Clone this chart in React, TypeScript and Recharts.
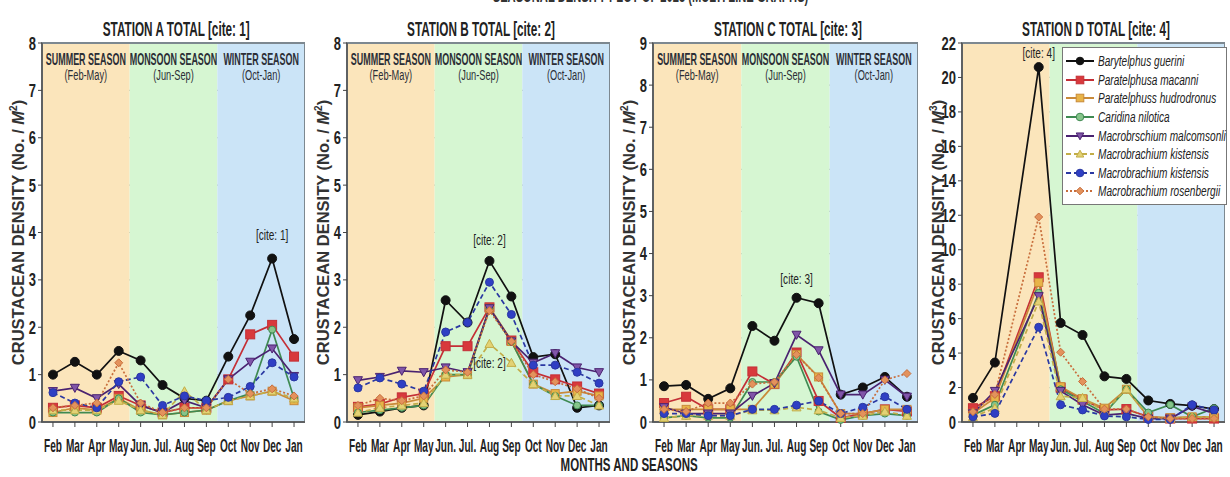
import React from "react";
import { CartesianGrid, Legend, Line, LineChart, ReferenceArea, ReferenceDot, XAxis, YAxis } from "recharts";

const months = ["Feb", "Mar", "Apr", "May", "Jun.", "Jul.", "Aug", "Sep", "Oct", "Nov", "Dec", "Jan"];

const species = [
  "Barytelphus guerini",
  "Paratelphusa macanni",
  "Paratelphuss hudrodronus",
  "Caridina nilotica",
  "Macrobrschium malcomsonli",
  "Macrobrachium kistensis",
  "Macrobrachium kistensis",
  "Macrobrachium rosenbergii",
];

// seasons as month-index ranges [start, end)
const seasonNames = ["SUMMER SEASON", "MONSOON SEASON", "WINTER SEASON"];
const seasonRanges = ["(Feb-May)", "(Jun-Sep)", "(Oct-Jan)"];
const seasonBounds = [0, 4, 8, 12];

// one row per species, same order as `species`
const stationA = [
  [1.0, 1.27, 1.0, 1.5, 1.3, 0.78, 0.5, 0.45, 1.38, 2.25, 3.45, 1.75],
  [0.3, 0.35, 0.3, 0.55, 0.35, 0.2, 0.3, 0.3, 0.9, 1.85, 2.05, 1.38],
  [0.2, 0.3, 0.25, 0.5, 0.25, 0.15, 0.2, 0.25, 0.45, 0.55, 0.65, 0.45],
  [0.2, 0.2, 0.2, 0.5, 0.2, 0.15, 0.2, 0.25, 0.45, 0.6, 1.95, 0.5],
  [0.65, 0.72, 0.5, 0.8, 0.35, 0.2, 0.45, 0.3, 0.9, 1.27, 1.55, 0.97],
  [0.25, 0.25, 0.25, 0.45, 0.25, 0.15, 0.65, 0.25, 0.45, 0.55, 0.65, 0.5],
  [0.62, 0.4, 0.3, 0.85, 0.95, 0.35, 0.55, 0.45, 0.52, 0.75, 1.25, 0.95],
  [0.3, 0.35, 0.4, 1.25, 0.4, 0.2, 0.3, 0.3, 0.9, 0.6, 0.7, 0.55],
];

const stationB = [
  [0.15, 0.22, 0.3, 0.35, 2.57, 2.1, 3.4, 2.65, 1.37, 1.43, 0.3, 0.35],
  [0.32, 0.38, 0.52, 0.6, 1.6, 1.6, 2.42, 1.72, 1.05, 0.9, 0.75, 0.6],
  [0.3, 0.35, 0.4, 0.5, 0.95, 1.0, 2.4, 1.7, 0.8, 0.6, 0.65, 0.55],
  [0.2, 0.25, 0.3, 0.35, 1.0, 1.0, 2.4, 1.7, 0.8, 0.55, 0.35, 0.35],
  [0.88, 0.95, 1.08, 1.05, 1.15, 1.05, 2.4, 1.7, 1.25, 1.45, 1.15, 1.05],
  [0.2, 0.3, 0.35, 0.4, 1.0, 1.0, 1.65, 1.25, 0.8, 0.55, 0.55, 0.35],
  [0.72, 0.93, 0.8, 0.65, 1.9, 2.1, 2.95, 2.27, 1.2, 1.2, 1.05, 0.82],
  [0.35, 0.5, 0.45, 0.55, 1.1, 1.05, 2.35, 1.7, 1.0, 0.85, 0.7, 0.5],
];

const stationC = [
  [0.85, 0.88, 0.55, 0.8, 2.28, 1.93, 2.95, 2.82, 0.65, 0.82, 1.07, 0.6],
  [0.45, 0.6, 0.3, 0.3, 1.2, 0.9, 1.65, 0.5, 0.1, 0.2, 0.3, 0.25],
  [0.3, 0.3, 0.3, 0.3, 0.3, 0.9, 1.6, 1.07, 0.2, 0.2, 0.3, 0.3],
  [0.1, 0.15, 0.1, 0.1, 0.95, 0.95, 1.55, 0.25, 0.05, 0.15, 0.2, 0.15],
  [0.35, 0.2, 0.2, 0.2, 0.62, 0.92, 2.07, 1.7, 0.65, 0.65, 1.0, 0.6],
  [0.1, 0.15, 0.15, 0.15, 0.28, 0.28, 0.35, 0.28, 0.1, 0.15, 0.25, 0.15],
  [0.2, 0.2, 0.15, 0.15, 0.3, 0.3, 0.4, 0.5, 0.2, 0.35, 0.6, 0.3],
  [0.3, 0.25, 0.45, 0.45, 0.9, 0.95, 1.6, 1.05, 0.2, 0.2, 1.0, 1.15],
];

// Apr left empty: the peak sits just before May
const stationD = [
  [1.4, 3.45, null, 20.6, 5.75, 5.05, 2.65, 2.5, 1.25, 1.05, 0.95, 0.75],
  [0.8, 1.5, null, 8.4, 2.0, 1.3, 0.7, 0.75, 0.3, 0.2, 0.2, 0.2],
  [0.5, 1.4, null, 8.1, 2.05, 1.35, 0.8, 1.9, 0.3, 0.25, 0.3, 0.3],
  [0.4, 1.0, null, 7.5, 1.9, 1.2, 0.5, 1.9, 0.55, 1.0, 0.3, 0.8],
  [0.5, 1.8, null, 7.3, 1.8, 1.0, 0.4, 0.5, 0.2, 0.2, 0.9, 0.5],
  [0.3, 0.8, null, 7.0, 1.5, 1.4, 0.6, 1.9, 0.3, 0.2, 0.3, 0.3],
  [0.3, 0.5, null, 5.5, 1.0, 0.7, 0.35, 0.3, 0.15, 0.15, 1.0, 0.7],
  [0.6, 1.6, null, 11.9, 4.05, 2.35, 0.75, 0.75, 0.3, 0.2, 0.2, 0.2],
];

const ticks8 = [0, 1, 2, 3, 4, 5, 6, 7, 8];
const ticks9 = [0, 1, 2, 3, 4, 5, 6, 7, 8, 9];
const ticks22 = [0, 2, 4, 6, 8, 10, 12, 14, 16, 18, 20, 22];

const styles = [
  { color: "#111111", fill: "#111111", dash: undefined, shape: "circle", r: 4.5 },
  { color: "#c42f36", fill: "#d8393c", dash: undefined, shape: "square", r: 4.5 },
  { color: "#c98a3a", fill: "#e8b448", dash: undefined, shape: "square", r: 4 },
  { color: "#3f8a52", fill: "#86c48a", dash: undefined, shape: "circle", r: 3.5 },
  { color: "#4a2270", fill: "#8055a8", dash: undefined, shape: "tdown", r: 4.5 },
  { color: "#c2ad48", fill: "#e3d274", dash: "5 3", shape: "tup", r: 4.5 },
  { color: "#2a38a2", fill: "#2f3fc4", dash: "5 3", shape: "circle", r: 4 },
  { color: "#c86e3c", fill: "#e3925c", dash: "2 2", shape: "diamond", r: 4 },
];

const seasonFills = ["#fbe5bb", "#d6f6d2", "#cbe4f7"];

const FONT = "'Liberation Sans', Arial, sans-serif";

function buildRows(values: (number | null)[][]) {
  return months.map((m, i) => {
    const row: Record<string, string | number | null> = { month: m, idx: i };
    values.forEach((s, j) => (row["s" + j] = s[i]));
    return row;
  });
}

// text squeezed horizontally, the source uses a narrow face
function CText({ x, y, sx, children, anchor = "middle", size, weight = "normal", style = "normal", fill = "#222" }: any) {
  return (
    <text transform={`translate(${x} ${y}) scale(${sx} 1)`} textAnchor={anchor} fontFamily={FONT}
      fontSize={size} fontWeight={weight} fontStyle={style} fill={fill}>
      {children}
    </text>
  );
}

function Squeeze({ sx, children, style }: any) {
  return (
    <span style={{ display: "inline-block", whiteSpace: "nowrap", transform: `scaleX(${sx})`, ...style }}>{children}</span>
  );
}

function Marker({ cx, cy, shape, color, fill, r }: any) {
  if (cx == null || cy == null) return null;
  if (shape === "square")
    return <rect x={cx - r} y={cy - r} width={r * 2} height={r * 2} fill={fill} stroke={color} strokeWidth={1} />;
  if (shape === "tup")
    return <polygon points={`${cx},${cy - r} ${cx + r},${cy + r * 0.8} ${cx - r},${cy + r * 0.8}`} fill={fill} stroke={color} strokeWidth={1} />;
  if (shape === "tdown")
    return <polygon points={`${cx - r},${cy - r * 0.8} ${cx + r},${cy - r * 0.8} ${cx},${cy + r}`} fill={fill} stroke={color} strokeWidth={1} />;
  if (shape === "diamond")
    return <polygon points={`${cx},${cy - r} ${cx + r},${cy} ${cx},${cy + r} ${cx - r},${cy}`} fill={fill} stroke={color} strokeWidth={1} />;
  return <circle cx={cx} cy={cy} r={r} fill={fill} stroke={color} strokeWidth={1} />;
}

function SeasonLabel({ viewBox, title, range }: any) {
  if (!viewBox) return null;
  const cx = viewBox.x + viewBox.width / 2;
  return (
    <g>
      <CText x={cx} y={viewBox.y + 22} sx={0.56} size={16} weight="bold" fill="#2b2e36">{title}</CText>
      <CText x={cx} y={viewBox.y + 37} sx={0.66} size={14} fill="#2b2e36">{range}</CText>
    </g>
  );
}

function YLabel({ viewBox, sup }: any) {
  const x = 20;
  const y = viewBox ? viewBox.y + viewBox.height / 2 : 232;
  return (
    <text x={x} y={y} transform={`rotate(-90 ${x} ${y})`} textAnchor="middle" dominantBaseline="middle"
      fontFamily={FONT} fontWeight="bold" fontSize={16.5} fill="#333">
      CRUSTACEAN DENSITY (No. / <tspan fontStyle="italic">M</tspan>
      <tspan fontSize={10} dy={-6}>{sup}</tspan>
      <tspan dy={6}>)</tspan>
    </text>
  );
}

function MonthTick({ x, y, payload }: any) {
  return <CText x={x} y={y + 23} sx={0.56} size={18} weight="bold">{payload.value}</CText>;
}

function ValueTick({ x, y, payload }: any) {
  return <CText x={x} y={y + 6.5} sx={0.72} size={18} anchor="end" weight="bold">{payload.value}</CText>;
}

function LegendBox() {
  return (
    <div style={{ background: "#fff", border: "1px solid #777", padding: "4px 0 3px 2px", fontFamily: FONT, fontStyle: "italic", fontSize: 14, color: "#222" }}>
      {species.map((name, i) => {
        const s = styles[i];
        return (
          <div key={i} style={{ display: "flex", alignItems: "center", height: 18.6 }}>
            <svg width={30} height={14} style={{ marginRight: 3, flex: "none" }}>
              <line x1={1} y1={7} x2={29} y2={7} stroke={s.color} strokeWidth={2} strokeDasharray={s.dash} />
              <Marker cx={15} cy={7} shape={s.shape} color={s.color} fill={s.fill} r={3.8} />
            </svg>
            <Squeeze sx={0.72} style={{ transformOrigin: "left center" }}>{name}</Squeeze>
          </div>
        );
      })}
    </div>
  );
}

type PanelProps = {
  title: string;
  left: number;
  width: number;
  values: (number | null)[][];
  yMax: number;
  ticks: number[];
  sup: string;
  seasons: boolean;
  cites: { x: string; y: number; text: string }[];
  legend?: boolean;
};

function Panel({ title, left, width, values, yMax, ticks, sup, seasons, cites, legend }: PanelProps) {
  const rows = buildRows(values);
  const plotW = width - 42;
  const pad = plotW / 24;
  return (
    <div style={{ position: "absolute", left, top: 0, width, height: 470 }}>
      <div style={{ position: "absolute", top: 17, left: 42 + plotW / 2 - 200 + 3, width: 400, textAlign: "center", fontFamily: FONT, fontWeight: "bold", fontSize: 21, lineHeight: "24px", color: "#222" }}>
        <Squeeze sx={0.56}>{title}</Squeeze>
      </div>
      <LineChart width={width} height={460} data={rows} margin={{ top: 43, right: 0, bottom: 8, left: 0 }}>
        <XAxis xAxisId="bg" dataKey="idx" type="number" domain={[0, 12]} allowDataOverflow hide />
        {seasonNames.map((name, i) => (
          <ReferenceArea key={name} xAxisId="bg" x1={seasonBounds[i]} x2={seasonBounds[i + 1]} y1={0} y2={yMax}
            fill={seasonFills[i]} fillOpacity={1} stroke="none" ifOverflow="visible"
            label={seasons ? (p: any) => <SeasonLabel {...p} title={name} range={seasonRanges[i]} /> : undefined} />
        ))}
        <CartesianGrid vertical={false} stroke="#8c8f92" strokeWidth={1.2} />
        <ReferenceArea xAxisId="bg" x1={0} x2={12} y1={0} y2={yMax} fill="none" stroke="#7d8890" strokeWidth={2} ifOverflow="visible" />
        <XAxis dataKey="month" interval={0} padding={{ left: pad, right: pad }} tickLine={{ stroke: "#444" }} tickSize={5}
          axisLine={{ stroke: "#555", strokeWidth: 1.5 }} tick={<MonthTick />} height={30} />
        <YAxis domain={[0, yMax]} ticks={ticks} interval={0} width={42} tickLine={{ stroke: "#444" }} tickSize={4}
          axisLine={{ stroke: "#555", strokeWidth: 1.5 }} tick={<ValueTick />}
          label={(p: any) => <YLabel {...p} sup={sup} />} />
        {styles.map((s, i) => (
          <Line key={i} dataKey={"s" + i} name={species[i]} stroke={s.color} strokeWidth={1.7} strokeDasharray={s.dash}
            connectNulls isAnimationActive={false}
            dot={(p: any) => <Marker key={p.index} cx={p.cx} cy={p.cy} shape={s.shape} color={s.color} fill={s.fill} r={s.r} />}
            activeDot={false} />
        ))}
        {cites.map((c, i) => (
          <ReferenceDot key={i} x={c.x} y={c.y} r={0}
            shape={(p: any) => <CText x={p.cx} y={p.cy + 5} sx={0.72} size={14}>{c.text}</CText>} />
        ))}
        {legend && (
          <Legend layout="vertical" align="center" verticalAlign="middle" content={() => <LegendBox />}
            wrapperStyle={{ top: 47, left: 142, width: 165, height: 150 }} />
        )}
      </LineChart>
    </div>
  );
}

export default function App() {
  return (
    <div style={{ position: "absolute", left: 0, top: 0, width: 1230, height: 477, background: "#fff", overflow: "hidden" }}>
      <div style={{ position: "absolute", top: -14, left: 396, width: 400, textAlign: "center", fontFamily: FONT, fontWeight: "bold", fontSize: 18, lineHeight: "20px", color: "#333" }}>
        <Squeeze sx={0.62}>SEASONAL DENSITY PLOT OF 2023 (MULTI LINE GRAPHS)</Squeeze>
      </div>
      <Panel title="STATION A TOTAL [cite: 1]" left={0} width={305} values={stationA} yMax={8} ticks={ticks8} sup="2" seasons
        cites={[{ x: "Dec", y: 3.95, text: "[cite: 1]" }]} />
      <Panel title="STATION B TOTAL [cite: 2]" left={305} width={305} values={stationB} yMax={8} ticks={ticks8} sup="2" seasons
        cites={[{ x: "Aug", y: 3.85, text: "[cite: 2]" }, { x: "Aug", y: 1.25, text: "[cite: 2]" }]} />
      <Panel title="STATION C TOTAL [cite: 3]" left={611} width={307} values={stationC} yMax={9} ticks={ticks9} sup="2" seasons
        cites={[{ x: "Aug", y: 3.4, text: "[cite: 3]" }]} />
      <Panel title="STATION D TOTAL [cite: 4]" left={920} width={305} values={stationD} yMax={22} ticks={ticks22} sup="3" seasons={false}
        cites={[{ x: "May", y: 21.4, text: "[cite: 4]" }]} legend />
      <div style={{ position: "absolute", top: 455, left: 429, width: 400, textAlign: "center", fontFamily: FONT, fontWeight: "bold", fontSize: 18, lineHeight: "20px", color: "#222" }}>
        <Squeeze sx={0.64}>MONTHS AND SEASONS</Squeeze>
      </div>
    </div>
  );
}
